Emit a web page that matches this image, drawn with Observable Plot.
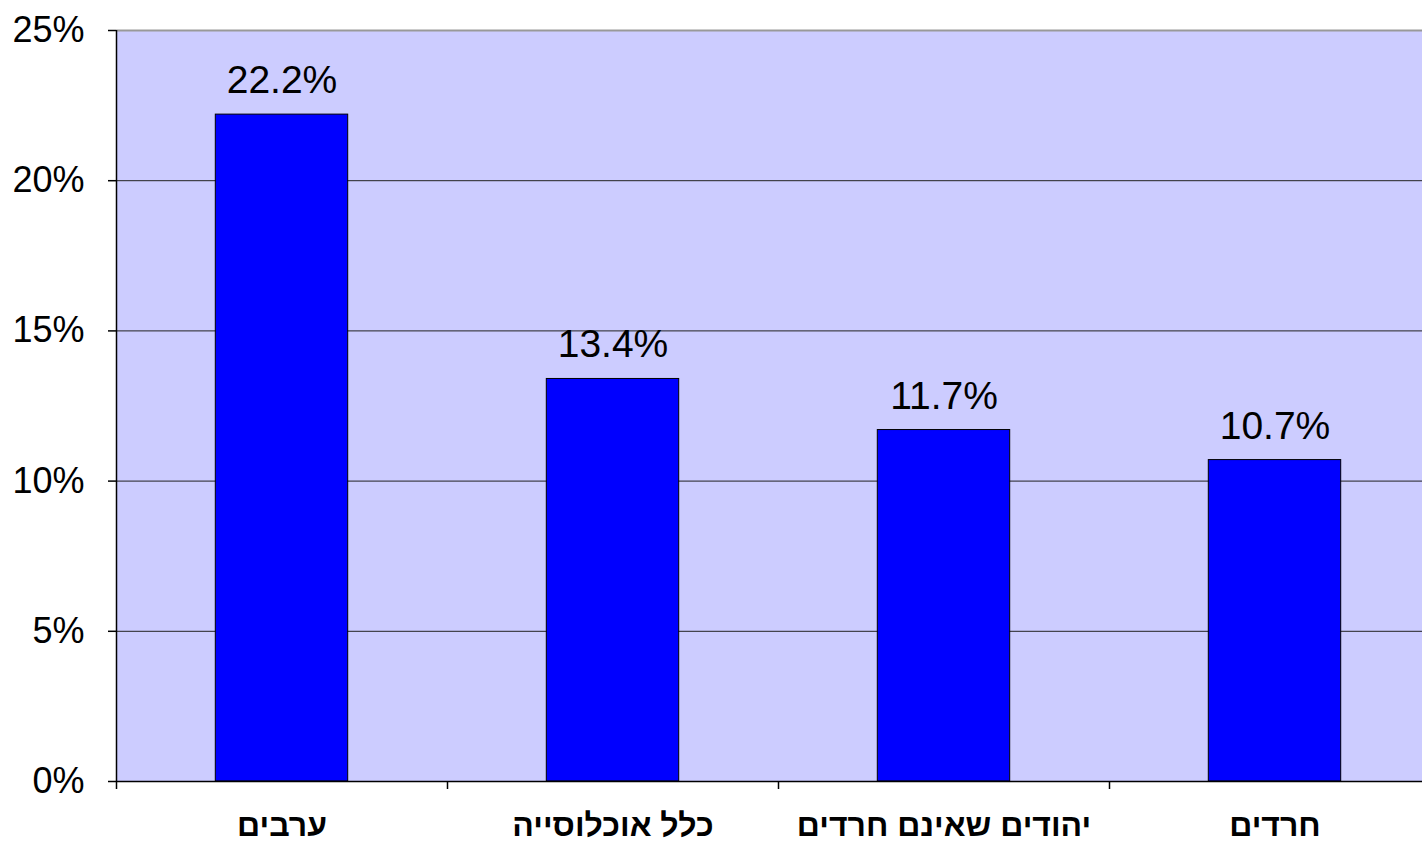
<!DOCTYPE html>
<html>
<head>
<meta charset="utf-8">
<script src="https://cdn.jsdelivr.net/npm/d3@7"></script>
<script src="https://cdn.jsdelivr.net/npm/@observablehq/plot@0.6"></script>
<style>
html, body { margin: 0; padding: 0; overflow: hidden; background: white; }
#chart svg { max-width: none !important; }
</style>
</head>
<body>
<div id="chart"></div>
<script>
const categories = ["ערבים", "כלל אוכלוסייה", "יהודים שאינם חרדים", "חרדים"];
const values = [22.2, 13.4, 11.7, 10.7];
const yTicks = [0, 5, 10, 15, 20, 25];
const gridTicks = [5, 10, 15, 20];
const boundaryTicks = [0, 1, 2, 3, 4];

const data = categories.map((c, i) => ({category: c, index: i, value: values[i]}));

const chart = Plot.plot({
  width: 1440,
  height: 843,
  marginLeft: 116,
  marginRight: 0,
  marginTop: 30,
  marginBottom: 62,
  style: {fontFamily: "'Liberation Sans', Arial, 'DejaVu Sans', sans-serif", background: "white", color: "black", maxWidth: "none"},
  x: {domain: [0, 4], axis: null, label: null},
  y: {domain: [0, 25], axis: null, label: null},
  marks: [
    Plot.frame({fill: "#CCCCFF", stroke: "none"}),
    Plot.ruleY(gridTicks, {stroke: "#222222", strokeWidth: 1}),
    Plot.ruleY([25], {stroke: "#999999", strokeWidth: 2}),
    Plot.rectY(data, {x1: d => d.index + 0.3, x2: d => d.index + 0.7, y: "value", fill: "#0000FF", stroke: "#000000", strokeWidth: 1}),
    Plot.ruleX([0], {stroke: "#000000", strokeWidth: 1.5}),
    Plot.ruleY([0], {stroke: "#000000", strokeWidth: 1.5}),
    Plot.axisY({ticks: yTicks, tickSize: 8, tickPadding: 24, tickFormat: d => d + "%", fontSize: 36, strokeWidth: 1.5, label: null}),
    Plot.axisX({ticks: boundaryTicks, tickSize: 8, tickFormat: () => "", strokeWidth: 1.5, label: null}),
    Plot.text(data, {x: d => d.index + 0.5, y: 0, text: "category", dy: 44, fontSize: 32, fontWeight: "bold"}),
    Plot.text(data, {x: d => d.index + 0.5, y: "value", text: d => d.value.toFixed(1) + "%", dy: -34, fontSize: 39})
  ]
});
document.getElementById("chart").appendChild(chart);
</script>
</body>
</html>
